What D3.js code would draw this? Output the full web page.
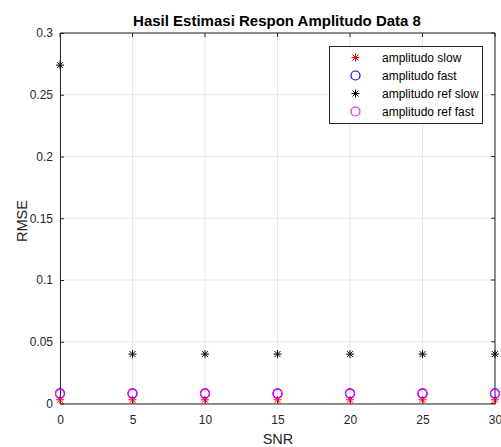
<!DOCTYPE html>
<html>
<head>
<meta charset="utf-8">
<script src="https://cdn.jsdelivr.net/npm/d3@7"></script>
<style>
  body { margin: 0; background: #fff; }
  text { font-family: "Liberation Sans", Arial, sans-serif; }
</style>
</head>
<body>
<div id="container"></div>
<script>
// Chart data
const snr = [0, 5, 10, 15, 20, 25, 30];
const ampSlow = [0.003, 0.003, 0.003, 0.003, 0.003, 0.003, 0.003];
const ampFast = [0.0082, 0.0082, 0.0082, 0.0082, 0.0082, 0.0082, 0.0082];
const ampRefSlow = [0.274, 0.04, 0.04, 0.04, 0.04, 0.04, 0.04];
const ampRefFast = [0.0078, 0.0078, 0.0078, 0.0078, 0.0078, 0.0078, 0.0078];
const xTicks = [0, 5, 10, 15, 20, 25, 30];
const yTicks = [0, 0.05, 0.1, 0.15, 0.2, 0.25, 0.3];
const yTickLabels = ["0", "0.05", "0.1", "0.15", "0.2", "0.25", "0.3"];

const series = [
  { name: "amplitudo slow", values: ampSlow, color: "#ff0000", marker: "star" },
  { name: "amplitudo fast", values: ampFast, color: "#0000ff", marker: "circle" },
  { name: "amplitudo ref slow", values: ampRefSlow, color: "#000000", marker: "star" },
  { name: "amplitudo ref fast", values: ampRefFast, color: "#ff00ff", marker: "circle" }
];

// Dimensions
const width = 501, height = 447;
const plotLeft = 60, plotRight = 495, plotTop = 33, plotBottom = 403.5;

const svg = d3.select("#container").append("svg")
  .attr("width", width)
  .attr("height", height);

const x = d3.scaleLinear().domain([0, 30]).range([plotLeft, plotRight]);
const y = d3.scaleLinear().domain([0, 0.3]).range([plotBottom, plotTop]);

// Grid lines
svg.append("g").selectAll("line")
  .data(xTicks)
  .enter().append("line")
  .attr("x1", d => x(d)).attr("x2", d => x(d))
  .attr("y1", plotTop).attr("y2", plotBottom)
  .attr("stroke", "#e6e6e6");
svg.append("g").selectAll("line")
  .data(yTicks)
  .enter().append("line")
  .attr("x1", plotLeft).attr("x2", plotRight)
  .attr("y1", d => y(d)).attr("y2", d => y(d))
  .attr("stroke", "#e6e6e6");

// Axes
const xAxis = d3.axisBottom(x).tickValues(xTicks).tickSizeInner(-4).tickSizeOuter(0).tickPadding(12);
const yAxis = d3.axisLeft(y).tickValues(yTicks).tickFormat((d, i) => yTickLabels[i]).tickSizeInner(-4).tickSizeOuter(0).tickPadding(7);

const gx = svg.append("g").attr("transform", `translate(0,${plotBottom})`).call(xAxis);
const gy = svg.append("g").attr("transform", `translate(${plotLeft},0)`).call(yAxis);
[gx, gy].forEach(g => {
  g.selectAll("path, line").attr("stroke", "#262626");
  g.selectAll("text").attr("fill", "#262626").style("font-size", "12px")
    .style("font-family", "'Liberation Sans', Arial, sans-serif");
});
// top and right frame
svg.append("line").attr("x1", plotLeft).attr("x2", plotRight).attr("y1", plotTop).attr("y2", plotTop).attr("stroke", "#262626");
svg.append("line").attr("x1", plotRight).attr("x2", plotRight).attr("y1", plotTop).attr("y2", plotBottom).attr("stroke", "#262626");
svg.append("g").selectAll("line")
  .data(xTicks)
  .enter().append("line")
  .attr("x1", d => x(d)).attr("x2", d => x(d))
  .attr("y1", plotTop).attr("y2", plotTop + 4)
  .attr("stroke", "#262626");
svg.append("g").selectAll("line")
  .data(yTicks)
  .enter().append("line")
  .attr("x1", plotRight - 4).attr("x2", plotRight)
  .attr("y1", d => y(d)).attr("y2", d => y(d))
  .attr("stroke", "#262626");

// Markers
function drawMarker(g, type, color, cx, cy) {
  if (type === "circle") {
    g.append("circle").attr("cx", cx).attr("cy", cy).attr("r", 4.5)
      .attr("fill", "none").attr("stroke", color).attr("stroke-width", 1.2);
  } else {
    const s = 4;
    const d = s * 0.75;
    const p = `M${cx - s},${cy}L${cx + s},${cy}M${cx},${cy - s}L${cx},${cy + s}` +
      `M${cx - d},${cy - d}L${cx + d},${cy + d}M${cx - d},${cy + d}L${cx + d},${cy - d}`;
    g.append("path").attr("d", p).attr("stroke", color).attr("stroke-width", 1).attr("fill", "none");
  }
}

series.forEach(s => {
  const g = svg.append("g");
  s.values.forEach((v, i) => drawMarker(g, s.marker, s.color, x(snr[i]), y(v)));
});

// Title and labels
svg.append("text")
  .attr("x", 277).attr("y", 26)
  .attr("text-anchor", "middle")
  .style("font-size", "15px").style("font-weight", "bold")
  .attr("fill", "#000")
  .text("Hasil Estimasi Respon Amplitudo Data 8");

svg.append("text")
  .attr("x", 278).attr("y", 444)
  .attr("text-anchor", "middle")
  .style("font-size", "14.5px")
  .attr("fill", "#262626")
  .text("SNR");

svg.append("text")
  .attr("transform", `translate(26.5,221) rotate(-90)`)
  .attr("text-anchor", "middle")
  .style("font-size", "14.5px")
  .attr("fill", "#262626")
  .text("RMSE");

// Legend
const legend = svg.append("g");
legend.append("rect")
  .attr("x", 329.5).attr("y", 46.5).attr("width", 153).attr("height", 77)
  .attr("fill", "#fff").attr("stroke", "#262626");
series.forEach((s, i) => {
  const ly = 57.5 + i * 18;
  drawMarker(legend, s.marker, s.color, 355.5, ly);
  legend.append("text")
    .attr("x", 382).attr("y", ly + 4.5)
    .style("font-size", "12px")
    .attr("fill", "#000")
    .text(s.name);
});
</script>
</body>
</html>
